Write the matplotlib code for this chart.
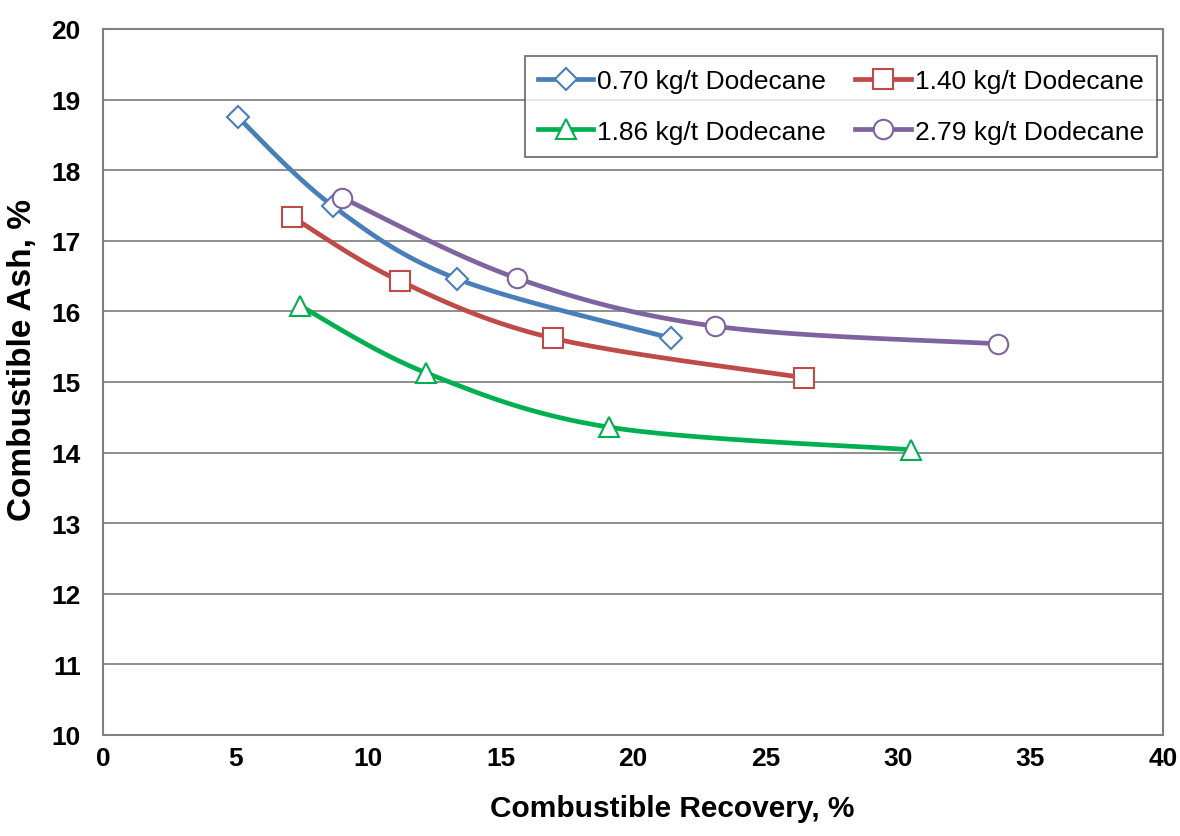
import numpy as np
import matplotlib
matplotlib.use("Agg")
import matplotlib.pyplot as plt

plt.rcParams['font.family'] = ['Liberation Sans', 'DejaVu Sans']

labels = ["0.70 kg/t Dodecane", "1.40 kg/t Dodecane", "1.86 kg/t Dodecane", "2.79 kg/t Dodecane"]
x_070 = [5.09, 8.68, 13.36, 21.43]
y_070 = [18.75, 17.49, 16.46, 15.62]
x_140 = [7.13, 11.20, 16.98, 26.45]
y_140 = [17.34, 16.43, 15.62, 15.06]
x_186 = [7.43, 12.19, 19.09, 30.49]
y_186 = [16.08, 15.13, 14.36, 14.04]
x_279 = [9.02, 15.62, 23.09, 33.77]
y_279 = [17.61, 16.47, 15.79, 15.54]
colors = ["#4A7EBB", "#BE4B48", "#00B050", "#7F63A1"]
markers = ["D", "s", "^", "o"]
msizes = [11, 14, 14, 14]

xticks = list(range(0, 45, 5))
yticks = list(range(10, 21, 1))


def smooth(x, y, xr=40.0, yr=10.0, aspect=0.665, n=40):
    # Excel-like smoothed line (Catmull-Rom Bezier) in normalized space
    px = np.asarray(x) / xr
    py = (np.asarray(y) - 10.0) / yr * aspect
    P = np.column_stack([px, py])
    out = []
    m = len(P)
    for i in range(m - 1):
        p0 = P[i - 1] if i > 0 else P[i]
        p1 = P[i]
        p2 = P[i + 1]
        p3 = P[i + 2] if i + 2 < m else P[i + 1]
        c1 = p1 + (p2 - p0) / 6.0
        c2 = p2 - (p3 - p1) / 6.0
        t = np.linspace(0, 1, n)[:, None]
        b = (1 - t) ** 3 * p1 + 3 * (1 - t) ** 2 * t * c1 + 3 * (1 - t) * t ** 2 * c2 + t ** 3 * p2
        out.append(b if i == 0 else b[1:])
    B = np.vstack(out)
    return B[:, 0] * xr, B[:, 1] / aspect * yr + 10.0


fig = plt.figure(figsize=(11.8, 8.37), dpi=100)
ax = fig.add_axes([0.0873, 0.1207, 0.8983, 0.8435])

series = [(x_070, y_070), (x_140, y_140), (x_186, y_186), (x_279, y_279)]
handles = []
for (xs, ys), c, mk, ms, lab in zip(series, colors, markers, msizes, labels):
    sx, sy = smooth(xs, ys)
    ax.plot(sx, sy, color=c, lw=3.4, solid_capstyle='round', zorder=2)
    ax.plot(xs, ys, linestyle='none', marker=mk, markersize=ms, markerfacecolor='white',
            markeredgecolor=c, markeredgewidth=1.5, zorder=3)
    h, = ax.plot([], [], color=c, lw=3.4, marker=mk, markersize=ms, markerfacecolor='white',
                 markeredgecolor=c, markeredgewidth=1.5, label=lab)
    handles.append(h)

ax.set_xlim(0, 40)
ax.set_ylim(10, 20)
ax.set_xticks(xticks)
ax.set_yticks(yticks)
ax.tick_params(axis='x', length=0, labelsize=19, pad=8)
ax.tick_params(axis='y', length=0, labelsize=19, pad=16)
for t in ax.get_xticklabels() + ax.get_yticklabels():
    t.set_fontweight('bold')
ax.grid(axis='y', color='#868686', lw=1.3)
ax.set_axisbelow(True)
for s in ax.spines.values():
    s.set_color('#808080')
    s.set_linewidth(1.5)

ax.set_xlabel("Combustible Recovery, %", fontsize=21.5, fontweight='bold')
ax.xaxis.set_label_coords(0.537, -0.083)
ax.set_ylabel("Combustible Ash, %", fontsize=24, fontweight='bold')
ax.yaxis.set_label_coords(-0.061, 0.532)

order = [0, 2, 1, 3]
leg = ax.legend([handles[i] for i in order], [labels[i] for i in order],
                loc='upper right', bbox_to_anchor=(0.9943, 0.9618), ncol=2, fontsize=19,
                frameon=True, fancybox=False, edgecolor='#404040', handlelength=2.1,
                handletextpad=0.15, columnspacing=1.1, borderpad=0.5, labelspacing=1.0,
                borderaxespad=0.0)
leg.get_frame().set_linewidth(1.2)

fig.savefig("out.png", dpi=100, facecolor='white')
